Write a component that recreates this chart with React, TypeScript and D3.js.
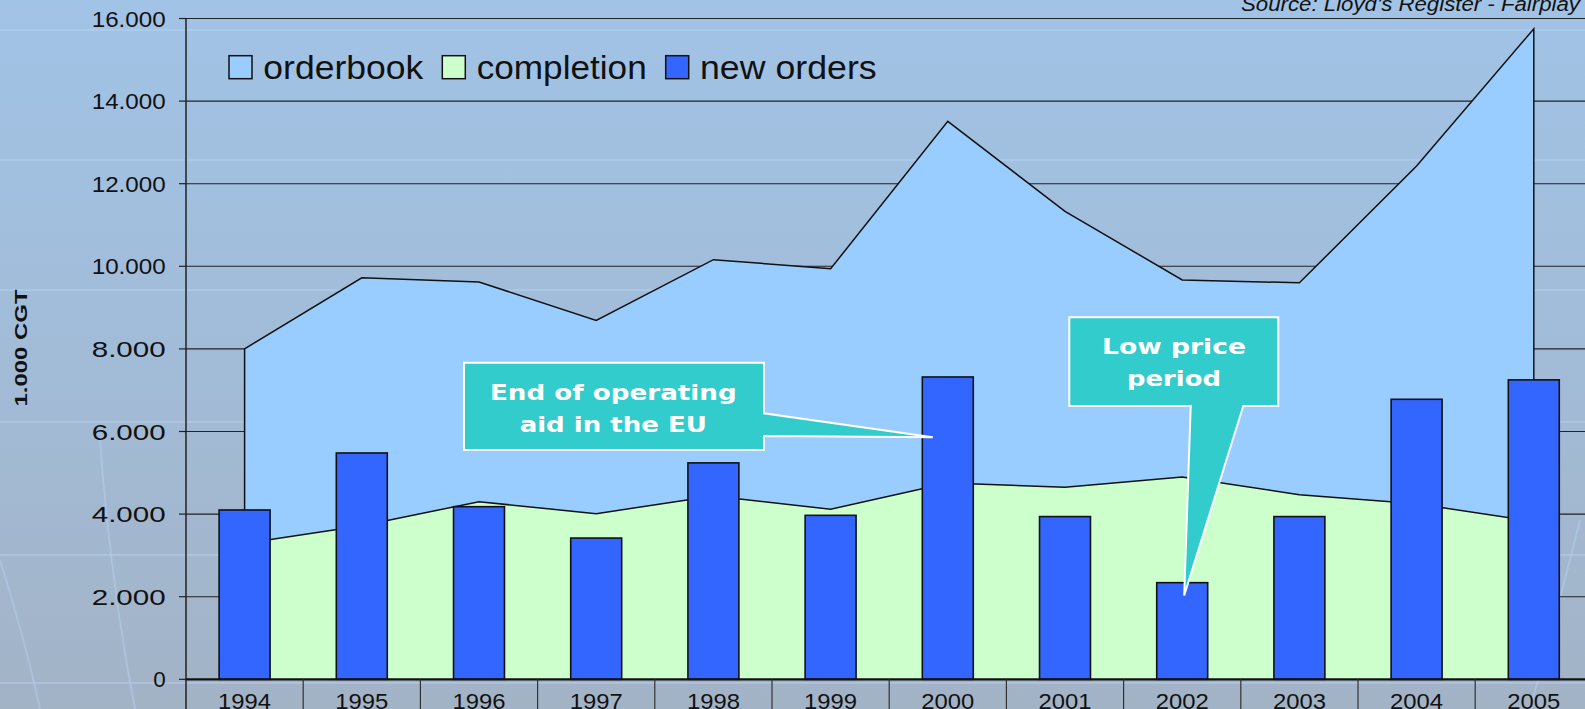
import React from "react";
import * as d3 from "d3";

const years = ["1994","1995","1996","1997","1998","1999","2000","2001","2002","2003","2004","2005"];
const orderbook = [8000, 9720, 9620, 8690, 10160, 9940, 13510, 11330, 9670, 9600, 12430, 15750];
const completion = [3290, 3720, 4300, 4010, 4440, 4120, 4750, 4650, 4900, 4470, 4250, 3820];
const newOrders = [4100, 5480, 4180, 3420, 5240, 3970, 7320, 3940, 2340, 3940, 6780, 7250];
const yTicks = [0, 2000, 4000, 6000, 8000, 10000, 12000, 14000, 16000];
const seriesNames = ["orderbook", "completion", "new orders"];
const seriesColors = ["#99CCFF", "#CCFFCC", "#3366FF"];

const W = 1585, H = 709;
const left = 186, bandW = 117.2, top = 18.5, base = 679.3;

const fmt = (v: number) => v === 0 ? "0" : d3.format(",")(v).replace(/,/g, ".");

export default function App() {
  const x = d3.scaleBand<string>().domain(years).range([left, left + bandW * years.length]).padding(0);
  const y = d3.scaleLinear().domain([0, 16000]).range([base, top]);
  const cx = (yr: string) => (x(yr) as number) + x.bandwidth() / 2;
  const barW = x.bandwidth() / 2.3;

  const areaGen = d3.area<number>()
    .x((_, i) => cx(years[i]))
    .y0(y(0))
    .y1((d) => y(d));
  const lineGen = d3.line<number>()
    .x((_, i) => cx(years[i]))
    .y((d) => y(d));

  // callout geometry
  const tip1x = cx("2000") - 15, tip1y = y(5860);
  const tip2x = cx("2002") + 2, tip2y = y(2030);
  const c1 = `M464,362.7 H764 V413.3 L${tip1x},${tip1y} L764,436 V450 H464 Z`;
  const c2 = `M1069.3,317.3 H1278.3 V406 H1243.3 L${tip2x},${tip2y} L1190.7,406 H1069.3 Z`;

  const bgLinesY = [30, 160, 290, 422, 555, 683];

  const legendItems = [
    { sx: 229, tx: 263.3, len: 160 },
    { sx: 442.3, tx: 476.7, len: 170 },
    { sx: 665.7, tx: 700, len: 176.7 },
  ];

  return (
    <svg width={W} height={H} style={{ position: "absolute", left: 0, top: 0 }} fontFamily="'Liberation Sans', Arial, sans-serif">
      <defs>
        <linearGradient id="bg" x1="0" y1="0" x2="0" y2="1">
          <stop offset="0" stopColor="#A1C3E6" />
          <stop offset="0.55" stopColor="#A2BBD6" />
          <stop offset="1" stopColor="#A3B3C6" />
        </linearGradient>
      </defs>
      <rect x={0} y={0} width={W} height={H} fill="url(#bg)" />
      {/* faint background globe lines */}
      <g stroke="#B8D6F4" strokeOpacity={0.4} fill="none" strokeWidth={2}>
        {bgLinesY.map((ly) => <line key={ly} x1={0} x2={W} y1={ly} y2={ly} />)}
        <path d="M100,440 Q110,580 135,709" />
        <path d="M0,560 Q25,640 40,709" />
        <path d="M1580,520 Q1555,620 1530,709" />
      </g>

      {/* source */}
      <text x={1580} y={11} textAnchor="end" fontStyle="italic" fontSize={19.5} textLength={339} lengthAdjust="spacingAndGlyphs" fill="#111">Source: Lloyd's Register - Fairplay</text>

      {/* gridlines behind the areas */}
      {yTicks.filter((t) => t > 0).map((t) => (
        <line key={"g" + t} x1={left} x2={W} y1={y(t)} y2={y(t)} stroke="#222" strokeWidth={1.1} />
      ))}

      {/* areas */}
      <path d={areaGen(orderbook) as string} fill={seriesColors[0]} stroke="#111" strokeWidth={1.5} />
      <path d={areaGen(completion) as string} fill={seriesColors[1]} stroke="none" />
      <path d={lineGen(completion) as string} fill="none" stroke="#111" strokeWidth={1.5} />

      {/* bars */}
      {newOrders.map((v, i) => (
        <rect key={years[i]} x={cx(years[i]) - barW / 2} y={y(v)} width={barW} height={y(0) - y(v)}
          fill={seriesColors[2]} stroke="#111" strokeWidth={1.6} />
      ))}

      {/* y ticks */}
      <g>
        {yTicks.map((t) => (
          <g key={t}>
            <line x1={179} x2={left} y1={y(t)} y2={y(t)} stroke="#222" strokeWidth={1.2} />
            <text x={165.7} y={y(t) + 8} textAnchor="end" fontSize={22} textLength={fmt(t).length > 1 ? 74 : 12.5} lengthAdjust="spacingAndGlyphs" fill="#111">{fmt(t)}</text>
          </g>
        ))}
      </g>

      {/* axis lines */}
      <line x1={left} x2={left} y1={top} y2={H} stroke="#222" strokeWidth={1.5} />
      <line x1={left} x2={W} y1={base} y2={base} stroke="#111" strokeWidth={2.2} />
      {years.map((yr) => (
        <line key={"sep" + yr} x1={(x(yr) as number) + bandW} x2={(x(yr) as number) + bandW} y1={base} y2={H} stroke="#333" strokeWidth={1.2} />
      ))}
      {years.map((yr) => (
        <text key={"lab" + yr} x={cx(yr)} y={709} textAnchor="middle" fontSize={22} textLength={53} lengthAdjust="spacingAndGlyphs" fill="#111">{yr}</text>
      ))}

      {/* y title */}
      <text transform="translate(27,348) rotate(-90)" textAnchor="middle" fontWeight="bold" fontSize={17} textLength={117} lengthAdjust="spacingAndGlyphs" fill="#111">1.000 CGT</text>

      {/* legend */}
      {legendItems.map((it, i) => (
        <g key={seriesNames[i]}>
          <rect x={it.sx} y={55.7} width={23} height={23} fill={seriesColors[i]} stroke="#111" strokeWidth={1.5} />
          <text x={it.tx} y={78.5} fontSize={32.5} textLength={it.len} lengthAdjust="spacingAndGlyphs" fill="#111">{seriesNames[i]}</text>
        </g>
      ))}

      {/* callouts */}
      <g fontFamily="'DejaVu Sans', Verdana, sans-serif" fontWeight="bold" fill="#fff" textAnchor="middle">
        <path d={c1} fill="#33CCCC" stroke="#fff" strokeWidth={2} />
        <text x={613.3} y={400} fontSize={22} textLength={246.7} lengthAdjust="spacingAndGlyphs">End of operating</text>
        <text x={613.3} y={431.7} fontSize={22} textLength={187.3} lengthAdjust="spacingAndGlyphs">aid in the EU</text>
        <path d={c2} fill="#33CCCC" stroke="#fff" strokeWidth={2} />
        <text x={1174} y={354.3} fontSize={22} textLength={144} lengthAdjust="spacingAndGlyphs">Low price</text>
        <text x={1174} y={386} fontSize={22} textLength={94} lengthAdjust="spacingAndGlyphs">period</text>
      </g>
    </svg>
  );
}
